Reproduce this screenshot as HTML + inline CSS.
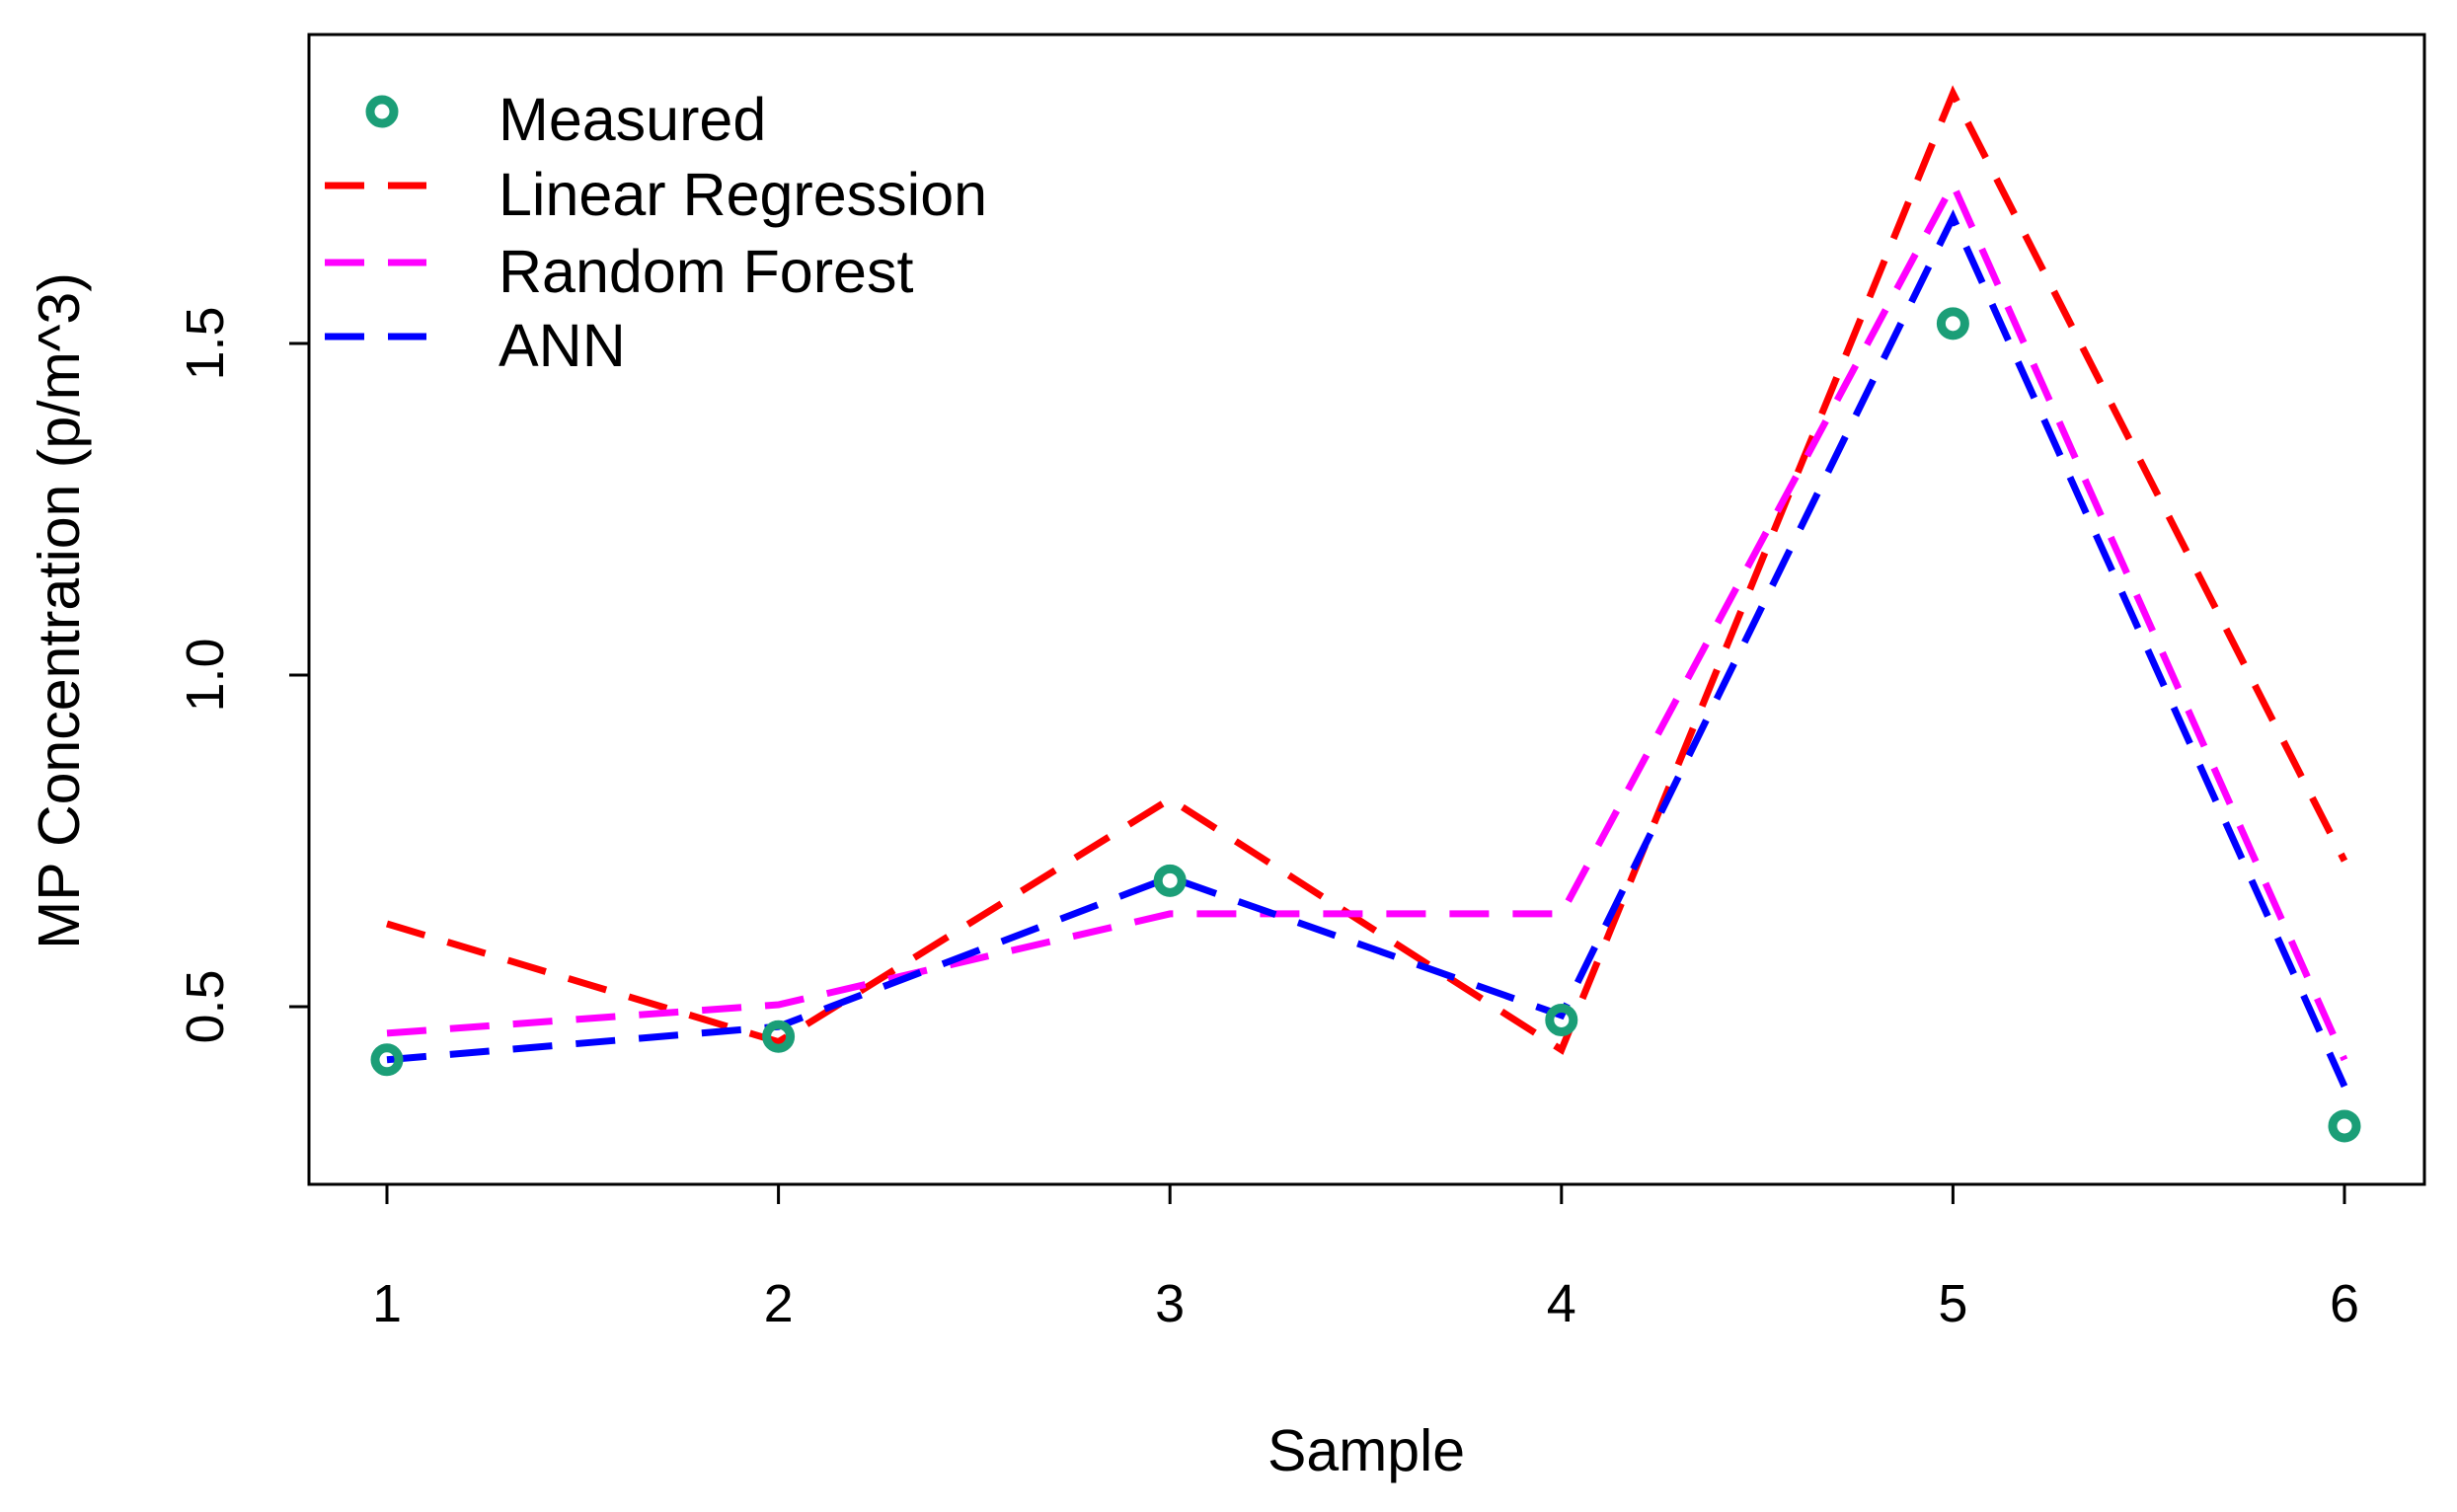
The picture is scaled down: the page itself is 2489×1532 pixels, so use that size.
<!DOCTYPE html>
<html><head><meta charset="utf-8"><style>html,body{margin:0;padding:0;background:#fff}svg{display:block}text{font-family:"Liberation Sans",Arial,sans-serif;fill:#000}</style></head>
<body>
<svg id="chart" width="2489" height="1532" viewBox="0 0 2489 1532" xmlns="http://www.w3.org/2000/svg">
<rect x="313" y="35" width="2143" height="1165" fill="none" stroke="#000" stroke-width="3"/>
<g id="axes"></g><g id="series"></g><g id="legend"></g>
<text x="1384" y="1490" font-size="59" text-anchor="middle">Sample</text>
<text transform="translate(80,619) rotate(-90)" font-size="59" text-anchor="middle">MP Concentration (p/m^3)</text>
</svg>
<script>
const samples=[1,2,3,4,5,6];
const measured=[0.42,0.455,0.69,0.48,1.53,0.32];
const linearRegression=[0.625,0.447,0.813,0.435,1.877,0.72];
const randomForest=[0.46,0.503,0.64,0.64,1.74,0.42];
const ann=[0.42,0.47,0.695,0.487,1.69,0.38];
const yTicks=[0.5,1.0,1.5];
const yTickLabels=["0.5","1.0","1.5"];
const NS="http://www.w3.org/2000/svg";
function X(v){return 392+(v-1)*(2375-392)/5;}
function Y(v){return 684-(v-1.0)*(1021-349);}
function mk(t,a,p){const e=document.createElementNS(NS,t);for(const k in a)e.setAttribute(k,a[k]);p.appendChild(e);return e;}
const axes=document.getElementById('axes');
samples.forEach(s=>{
 const t=mk('line',{x1:X(s),x2:X(s),y1:1200,y2:1220,stroke:'#000','stroke-width':3},axes);
 
 
 const l=mk('text',{x:X(s),y:1339,'font-size':54,'text-anchor':'middle'},axes);l.textContent=s;
 
 
});
yTicks.forEach((v,i)=>{
 const t=mk('line',{x1:293,x2:313,y1:Y(v),y2:Y(v),stroke:'#000','stroke-width':3},axes);
 
 
 const l=mk('text',{transform:`translate(226,${Y(v)}) rotate(-90)`,'font-size':54,'text-anchor':'middle'},axes);l.textContent=yTickLabels[i];
 
 
});
const ser=document.getElementById('series');
const lines=[[linearRegression,'#ff0000','linear-regression-line'],[randomForest,'#ff00ff','random-forest-line'],[ann,'#0000ff','ann-line']];
lines.forEach(([d,c,n])=>{
 const p=mk('polyline',{points:d.map((v,i)=>X(samples[i])+','+Y(v)).join(' '),fill:'none',stroke:c,'stroke-width':7,'stroke-dasharray':'40 24'},ser);
 
 
});
measured.forEach((v,i)=>{
 const c=mk('circle',{cx:X(samples[i]),cy:Y(v),r:12,fill:'none',stroke:'#1b9e77','stroke-width':9},ser);
 
 
});
const lg=document.getElementById('legend');
const entries=[['Measured',null],['Linear Regression','#ff0000'],['Random Forest','#ff00ff'],['ANN','#0000ff']];
const rows=[113,198,276,351];
const textY=[142,218,296,371];
entries.forEach(([t,c],i)=>{
 const g=mk('g',{},lg);
 
 
 if(c)mk('line',{x1:329,x2:432,y1:rows[i]-10,y2:rows[i]-10,stroke:c,'stroke-width':7,'stroke-dasharray':'40 24'},g);
 else mk('circle',{cx:387,cy:rows[i],r:12,fill:'none',stroke:'#1b9e77','stroke-width':9},g);
 const tx=mk('text',{x:505,y:textY[i],'font-size':61},g);tx.textContent=t;
});
</script>
</body></html>
